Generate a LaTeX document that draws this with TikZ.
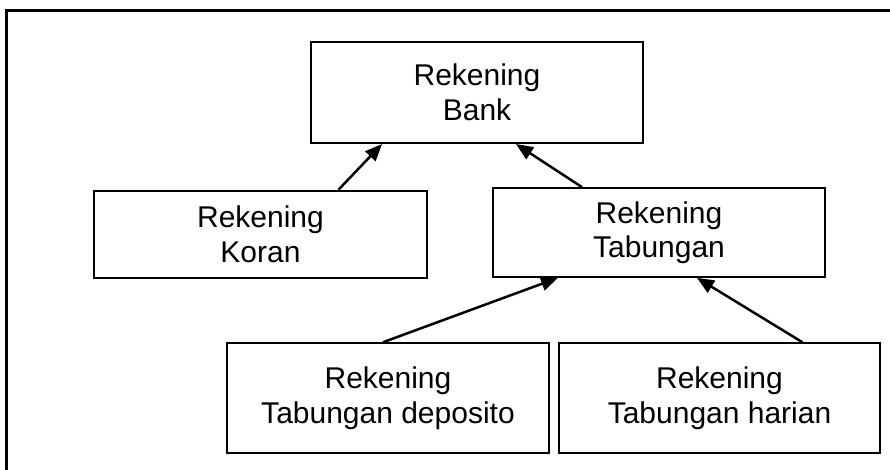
\documentclass[tikz,border=0pt]{standalone}
\usepackage{fontspec}
\setmainfont{Liberation Sans}
\usetikzlibrary{arrows.meta}

\begin{document}
\begin{tikzpicture}[x=1pt,y=-1pt,
        akun/.style={draw,line width=2pt,align=center,inner sep=2pt,font=\fontsize{30}{34.5}\selectfont},
        turunan/.style={-{Triangle[length=17pt,width=14pt]},line width=2.5pt}]%,>=latex]
            \useasboundingbox (0,0) rectangle (890,470);
            \draw[line width=3pt] (6.5,11) rectangle (900,480);
            \node[akun,minimum width=332pt,minimum height=101.5pt] (bank) at (477,92.3) {Rekening\\Bank};
            \node[akun,minimum width=333pt,minimum height=87pt] (koran) at (260.5,234.2) {Rekening\\Koran};
            \node[akun,minimum width=332pt,minimum height=88.7pt] (tabungan) at (659,232.5) {Rekening\\Tabungan};
            \node[akun,minimum width=322pt,minimum height=109.5pt] (deposito) at (388,398) {Rekening\\Tabungan deposito};
            \node[akun,minimum width=321pt,minimum height=110pt] (harian) at (719.5,398.3) {Rekening\\Tabungan harian};
            \draw[turunan] ([xshift=78pt]koran.north) -- ([xshift=-95pt]bank.south);
            \draw[turunan] ([xshift=-77pt]tabungan.north) -- ([xshift=39pt]bank.south);
            \draw[turunan] ([xshift=-5pt]deposito.north) -- ([xshift=-101pt]tabungan.south);
            \draw[turunan] ([xshift=83pt]harian.north) -- ([xshift=38pt]tabungan.south);
        \end{tikzpicture}
\end{document}
